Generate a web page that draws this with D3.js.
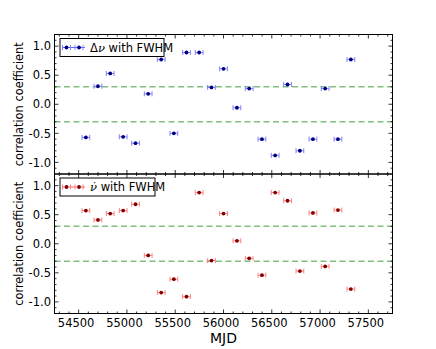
<!DOCTYPE html>
<html><head><meta charset="utf-8">
<script src="https://cdn.jsdelivr.net/npm/d3@7"></script>
<style>body{margin:0;background:#fff}svg{display:block;font-family:"DejaVu Sans",sans-serif}</style>
</head><body><svg id="c" width="436" height="349"></svg>
<script>
const mjdTop = [54575,54700,54827,54961,55089,55220,55355,55486,55617,55748,55876,56000,56139,56266,56398,56535,56663,56791,56926,57053,57185,57319];
const corrTop = [-0.57,0.31,0.53,-0.56,-0.67,0.18,0.77,-0.50,0.89,0.89,0.29,0.61,-0.06,0.27,-0.60,-0.88,0.34,-0.80,-0.60,0.27,-0.60,0.77];
const mjdBot = [54575,54700,54827,54961,55089,55220,55355,55486,55617,55748,55876,56000,56139,56266,56398,56535,56663,56791,56926,57053,57185,57319];
const corrBot = [0.57,0.41,0.52,0.57,0.68,-0.20,-0.84,-0.61,-0.91,0.88,-0.29,0.52,0.05,-0.25,-0.54,0.88,0.74,-0.47,0.53,-0.39,0.58,-0.78];
const xErr = 40;
const thresholds = [0.3,-0.3];
const xTicks = [54500,55000,55500,56000,56500,57000,57500];
const yTicks = [-1.0,-0.5,0.0,0.5,1.0];
const xDomain = [54250,57750];
const yDomain = [-1.2,1.2];

const svg = d3.select("#c");
const L = 54.5, R = 392.5;
const x = d3.scaleLinear().domain(xDomain).range([L,R]);
const panels = [
  {top:34.5, bot:174, mjd:mjdTop, vals:corrTop, errCol:"#8080ff", mkCol:"#00007f", showX:false},
  {top:174, bot:313.5, mjd:mjdBot, vals:corrBot, errCol:"#ff8080", mkCol:"#7f0000", showX:true}
];
const xMinor = d3.range(54300,57750,100);
const yMinor = d3.range(-11,12).map(d=>d/10);

panels.forEach((p,pi)=>{
  const y = d3.scaleLinear().domain(yDomain).range([p.bot,p.top]);
  const g = svg.append("g");
  thresholds.forEach(t=>{
    g.append("line").attr("x1",L).attr("x2",R).attr("y1",y(t)).attr("y2",y(t))
      .attr("stroke","#80bf80").attr("stroke-width",1.5).attr("stroke-dasharray","6,3.5");
  });
  const pts = p.mjd.map((m,i)=>({m, v:p.vals[i]}));
  const eg = g.append("g");
  pts.forEach(d=>{
    const yy = y(d.v), x0 = x(d.m-xErr), x1 = x(d.m+xErr);
    eg.append("line").attr("x1",x0).attr("x2",x1).attr("y1",yy).attr("y2",yy).attr("stroke",p.errCol).attr("stroke-width",1);
    [x0,x1].forEach(xx=>eg.append("line").attr("x1",xx).attr("x2",xx).attr("y1",yy-2.5).attr("y2",yy+2.5).attr("stroke",p.errCol).attr("stroke-width",1));
  });
  g.append("g").selectAll("circle").data(pts).join("circle")
    .attr("cx",d=>x(d.m)).attr("cy",d=>y(d.v)).attr("r",1.9).attr("fill",p.mkCol);

  const tg = g.append("g").attr("stroke","#000").attr("stroke-width",0.8);
  xMinor.forEach(t=>{
    const major = xTicks.includes(t); const len = major?4:2;
    tg.append("line").attr("x1",x(t)).attr("x2",x(t)).attr("y1",p.bot).attr("y2",p.bot-len);
    tg.append("line").attr("x1",x(t)).attr("x2",x(t)).attr("y1",p.top).attr("y2",p.top+len);
  });
  yMinor.forEach(t=>{
    const major = Math.abs(t*2-Math.round(t*2))<1e-6; const len = major?4:2;
    tg.append("line").attr("x1",L).attr("x2",L+len).attr("y1",y(t)).attr("y2",y(t));
    tg.append("line").attr("x1",R).attr("x2",R-len).attr("y1",y(t)).attr("y2",y(t));
  });
  const ya = d3.axisLeft(y).tickValues(yTicks).tickSize(0).tickPadding(3.5).tickFormat(d3.format(".1f"));
  const yg = g.append("g").attr("transform",`translate(${L},0)`).call(ya);
  yg.select(".domain").remove();
  yg.selectAll("text").attr("font-size",11.5).attr("font-family","DejaVu Sans").attr("fill","#000")
    .text(d=>d3.format(".1f")(d).replace("−","-"));
  if(p.showX){
    const xa = d3.axisBottom(x).tickValues(xTicks).tickSize(0).tickPadding(5).tickFormat(d3.format("d"));
    const xg = g.append("g").attr("transform",`translate(0,${p.bot})`).call(xa);
    xg.select(".domain").remove();
    xg.selectAll("text").attr("font-size",11.5).attr("font-family","DejaVu Sans").attr("fill","#000").attr("dx",-3);
  }
  g.append("rect").attr("x",L).attr("y",p.top).attr("width",R-L).attr("height",p.bot-p.top)
    .attr("fill","none").attr("stroke","#000").attr("stroke-width",1);
  g.append("text").attr("transform",`translate(23,${(p.top+p.bot)/2}) rotate(-90)`)
    .attr("text-anchor","middle").attr("font-size",11.4).text("correlation coefficient");
  const lx = 60, ly = p.top+4, lw = pi===0?104:95, lh = 18;
  const lg = g.append("g");
  lg.append("rect").attr("x",lx).attr("y",ly).attr("width",lw).attr("height",lh).attr("fill","#fff").attr("stroke","#000").attr("stroke-width",1);
  const cy = ly+lh/2;
  lg.append("line").attr("x1",lx+2).attr("x2",lx+25).attr("y1",cy).attr("y2",cy).attr("stroke",pi===0 ? "#0000ff" : "#ff0000").attr("stroke-width",1).attr("opacity",0.6);
  [lx+6.5, lx+19].forEach(mx=>{
    [mx-4,mx+4].forEach(cx=>lg.append("line").attr("x1",cx).attr("x2",cx).attr("y1",cy-2.5).attr("y2",cy+2.5).attr("stroke",p.errCol));
    lg.append("circle").attr("cx",mx).attr("cy",cy).attr("r",1.9).attr("fill",p.mkCol);
  });
  const txt = lg.append("text").attr("x",lx+30).attr("y",cy+4).attr("font-size",11.5);
  if(pi===0){
    txt.append("tspan").text("Δ");
    txt.append("tspan").attr("font-style","italic").attr("font-family","DejaVu Serif").text("ν");
    txt.append("tspan").text(" with FWHM");
  } else {
    txt.append("tspan").attr("font-style","italic").attr("font-family","DejaVu Serif").text("ν\u0307");
    txt.append("tspan").text(" with FWHM");
  }
});
svg.append("text").attr("x",(L+R)/2).attr("y",343).attr("text-anchor","middle").attr("font-size",14).text("MJD");
</script></body></html>
